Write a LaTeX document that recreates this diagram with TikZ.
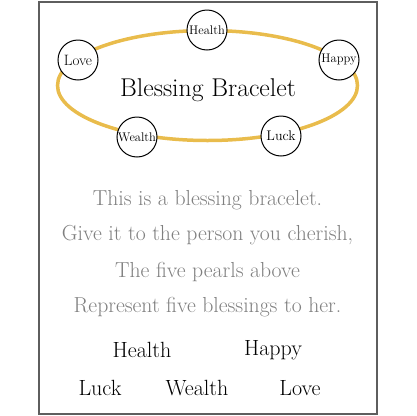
\documentclass[tikz,border=0pt]{standalone}
\usepackage{xcolor}
\usepackage{tikz}
\definecolor{gold}{HTML}{E9BC4C}
\definecolor{softgray}{HTML}{7F7F7F}
\definecolor{framegray}{HTML}{5E5E5E}

\begin{document}
\begin{tikzpicture}[x=1pt,y=-1pt]
\tikzstyle{pearl}=[draw,shape=circle,fill=white,line width=1pt,minimum size=40pt,inner sep=0pt];
\tikzstyle{verse}=[text=softgray,font=\fontsize{21.7}{24}\selectfont];
\tikzstyle{word}=[font=\fontsize{22}{24}\selectfont];
\useasboundingbox (0,0) rectangle (416,416);
\draw[framegray,line width=1.4pt] (39,2) rectangle (377,414);
% bracelet
\draw[gold,line width=3.5pt] (207.5,85.5) ellipse (150 and 55);
\path (208,90) node (title) {\fontsize{25.7}{28}\selectfont Blessing Bracelet};
\path (207,30) node[pearl] (p1) {\fontsize{12.5}{14}\selectfont Health};
\path (339,60) node[pearl] (p2) {\fontsize{12.5}{14}\selectfont Happy};
\path (281,136) node[pearl] (p3) {\fontsize{14}{16}\selectfont Luck};
\path (137,137) node[pearl] (p4) {\fontsize{12.5}{14}\selectfont Wealth};
\path (78,60) node[pearl] (p5) {\fontsize{15}{16}\selectfont Love};
% verse
\path (207.5,200) node[verse] (l1) {This is a blessing bracelet.};
\path (207.5,235) node[verse] (l2) {Give it to the person you cherish,};
\path (207.5,272) node[verse] (l3) {The five pearls above};
\path (207.5,307) node[verse] (l4) {Represent five blessings to her.};
% blessings
\path (142,350) node[word] (w1) {Health};
\path (273,350) node[word] (w2) {Happy};
\path (100,388) node[word] (w3) {Luck};
\path (197,388) node[word] (w4) {Wealth};
\path (300,388) node[word] (w5) {Love};
\end{tikzpicture}
\end{document}
